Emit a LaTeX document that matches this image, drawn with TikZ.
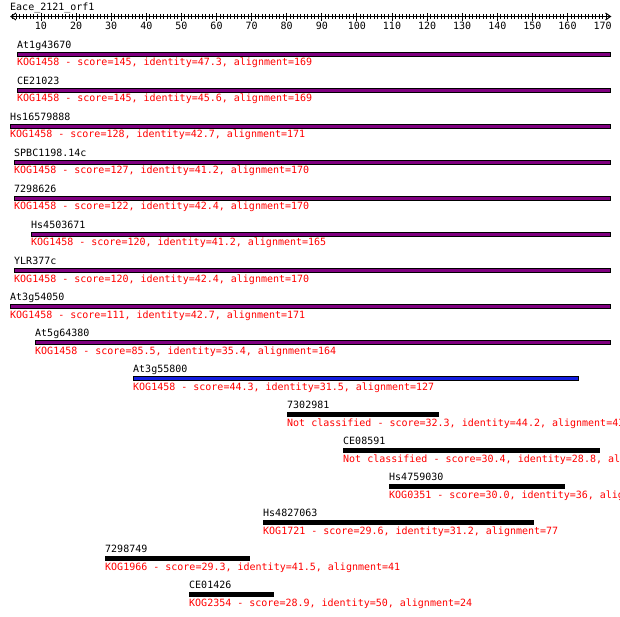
\documentclass[tikz,border=0pt]{standalone}
\usepackage{fontspec}
\newfontfamily\pixmono{DejaVu Sans Mono}
\definecolor{kogpurple}{RGB}{128,0,128}
\definecolor{kogblue}{RGB}{20,30,225}
\begin{document}
\begin{tikzpicture}[x=1pt,y=-1pt,
  lbl/.style={font=\pixmono\fontsize{10}{12}\selectfont, inner sep=0pt, anchor=base west},
  hit/.style={lbl, text=red},
  rulernum/.style={font=\pixmono\fontsize{10}{12}\selectfont, inner sep=0pt, anchor=base},
  hitbar/.style={draw=black, line width=1pt},
  rulerline/.style={draw=black, line width=1pt}]
\useasboundingbox (0,0) rectangle (620,617);
\clip (0,0) rectangle (620,617);
% title and ruler
\node[lbl] (title) at (10,10.5) {Eace\_2121\_orf1};
\coordinate (rl) at (11,16.5);
\coordinate (rr) at (610.5,16.5);
\draw[rulerline] (rl) -- (rr);
\draw[rulerline] (rl) ++(5,-3.5) -- (rl) -- ++(5,3.5);
\draw[rulerline] (rr) ++(-5,-3.5) -- (rr) -- ++(-5,3.5);
\foreach \n in {2,...,171} {
  \draw[rulerline] ({5.9+3.51*\n},14.5) -- ++(0,4.5);
}
\foreach \n in {10,20,...,160} {
  \draw[rulerline] ({5.9+3.51*\n},13) -- ++(0,8);
}
\foreach \n in {10,20,...,170} {
  \node[rulernum] (tick\n) at ({5.9+3.51*\n},30) {\n};
}
% hits
\foreach \k/\xs/\xe/\col/\nm/\txt in {
 0/17/611/kogpurple/{At1g43670}/{KOG1458 - score=145, identity=47.3, alignment=169},
 1/17/611/kogpurple/{CE21023}/{KOG1458 - score=145, identity=45.6, alignment=169},
 2/10/611/kogpurple/{Hs16579888}/{KOG1458 - score=128, identity=42.7, alignment=171},
 3/14/611/kogpurple/{SPBC1198.14c}/{KOG1458 - score=127, identity=41.2, alignment=170},
 4/14/611/kogpurple/{7298626}/{KOG1458 - score=122, identity=42.4, alignment=170},
 5/31/611/kogpurple/{Hs4503671}/{KOG1458 - score=120, identity=41.2, alignment=165},
 6/14/611/kogpurple/{YLR377c}/{KOG1458 - score=120, identity=42.4, alignment=170},
 7/10/611/kogpurple/{At3g54050}/{KOG1458 - score=111, identity=42.7, alignment=171},
 8/35/611/kogpurple/{At5g64380}/{KOG1458 - score=85.5, identity=35.4, alignment=164},
 9/133/579/kogblue/{At3g55800}/{KOG1458 - score=44.3, identity=31.5, alignment=127},
 10/287/439/black/{7302981}/{Not classified - score=32.3, identity=44.2, alignment=43},
 11/343/600/black/{CE08591}/{Not classified - score=30.4, identity=28.8, alignment=73},
 12/389/565/black/{Hs4759030}/{KOG0351 - score=30.0, identity=36, alignment=50},
 13/263/534/black/{Hs4827063}/{KOG1721 - score=29.6, identity=31.2, alignment=77},
 14/105/250/black/{7298749}/{KOG1966 - score=29.3, identity=41.5, alignment=41},
 15/189/274/black/{CE01426}/{KOG2354 - score=28.9, identity=50, alignment=24}} {
  \draw[hitbar, fill=\col] ({\xs+0.5},{52.2+36*\k}) rectangle ({\xe-0.5},{56.2+36*\k});
  \node[lbl] (name\k) at (\xs,{48.5+36*\k}) {\nm};
  \node[hit] (hit\k) at (\xs,{66+36*\k}) {\txt};
}
\end{tikzpicture}
\end{document}
